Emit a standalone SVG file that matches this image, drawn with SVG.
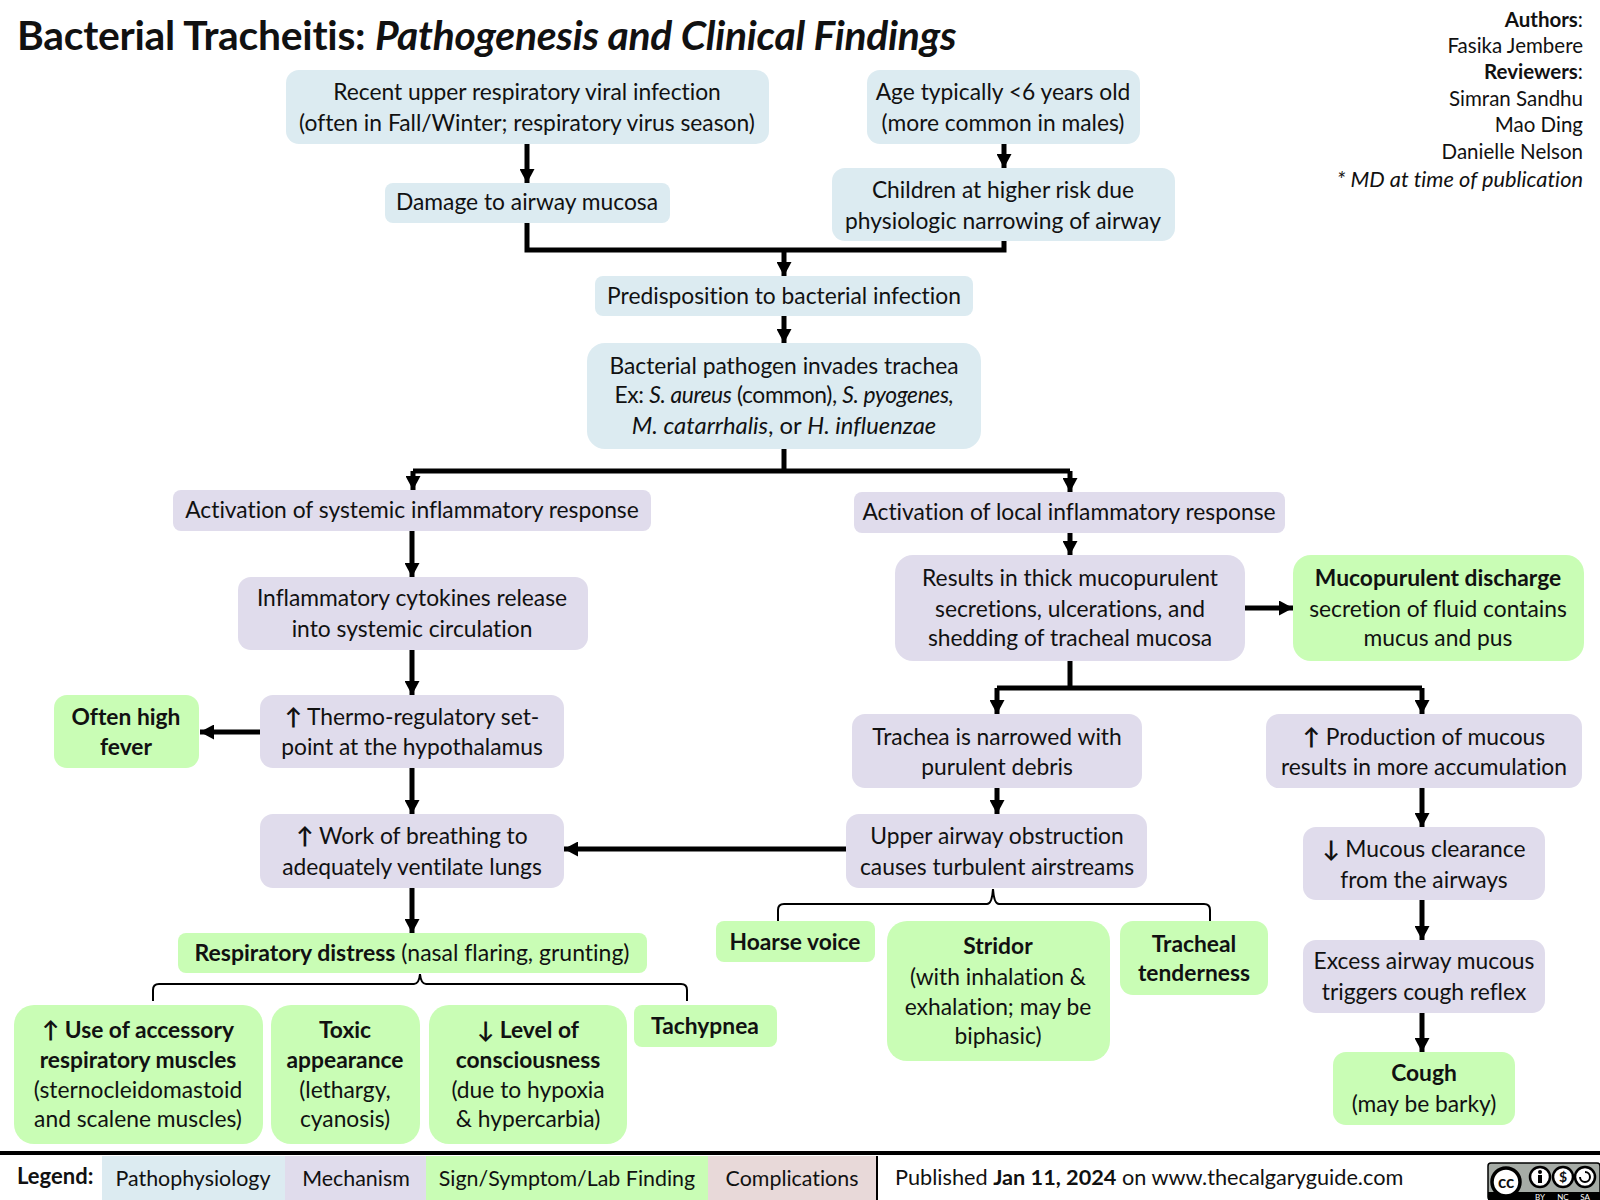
<svg xmlns="http://www.w3.org/2000/svg" width="1600" height="1200" viewBox="0 0 1600 1200">
<style>
text{font-family:"Lato","Carlito","Open Sans",sans-serif;font-size:22.8px;fill:#111;text-anchor:middle;font-variant-ligatures:none}
.b{font-weight:700}.i{font-style:italic}
.p{fill:#dcebf1}.m{fill:#e0dcec}.s{fill:#c9fdb5}.c{fill:#e8d9d9}
.r{text-anchor:end;font-size:20.5px}
.l{text-anchor:start}
.f{font-size:21.4px}
.a{fill:none;stroke:#000;stroke-width:5;marker-end:url(#ah)}
.j{fill:none;stroke:#000;stroke-width:5}
.t{fill:none;stroke:#000;stroke-width:2}
</style>
<defs><marker id="ah" markerUnits="userSpaceOnUse" markerWidth="15" markerHeight="15" refX="14" refY="7.5" orient="auto"><path d="M0,0L14,7.5L0,15z" fill="#000"/></marker></defs>
<rect width="1600" height="1200" fill="#fff"/>
<g id="title"><text class="l b" x="17" y="50" style="font-size:40.8px;letter-spacing:-.25px">Bacterial Tracheitis: <tspan class="i">Pathogenesis and Clinical Findings</tspan></text></g>
<g id="authors">
<text class="r" x="1583" y="27"><tspan class="b">Authors</tspan>:</text>
<text class="r" x="1583" y="53">Fasika Jembere</text>
<text class="r" x="1583" y="79"><tspan class="b">Reviewers</tspan>:</text>
<text class="r" x="1583" y="106">Simran Sandhu</text>
<text class="r" x="1583" y="132">Mao Ding</text>
<text class="r" x="1583" y="159">Danielle Nelson</text>
<text class="r i" x="1583" y="187" style="font-size:21.8px">* MD at time of publication</text>
</g>
<g id="connectors">
<path class="a" d="M527,144V183"/>
<path class="a" d="M1004,144V168"/>
<path class="j" d="M527,223V250H1004V241"/>
<path class="a" d="M784,250V276"/>
<path class="a" d="M784,316V343"/>
<path class="j" d="M784,449V471"/>
<path class="j" d="M413,471H1070"/>
<path class="a" d="M413,471V490"/>
<path class="a" d="M1070,471V492"/>
<path class="a" d="M1070,533V555"/>
<path class="a" d="M412,531V577"/>
<path class="a" d="M412,650V695"/>
<path class="a" d="M260,732H200"/>
<path class="a" d="M412,768V814"/>
<path class="a" d="M412,888V933"/>
<path class="a" d="M846,849H564"/>
<path class="a" d="M1245,608H1293"/>
<path class="j" d="M1070,661V688"/>
<path class="j" d="M997,688H1422"/>
<path class="a" d="M997,688V714"/>
<path class="a" d="M1422,688V714"/>
<path class="a" d="M997,788V814"/>
<path class="a" d="M1422,788V827"/>
<path class="a" d="M1422,900V940"/>
<path class="a" d="M1422,1013V1052"/>
<path class="t" d="M153,1001V990Q153,984 159,984H414Q419,984 420,974Q421,984 426,984H681Q687,984 687,990V1001"/>
<path class="t" d="M778,921V910Q778,904 784,904H987Q992,904 993,889Q994,904 999,904H1204Q1210,904 1210,910V921"/>
</g>
<g id="n1"><rect class="p" x="286" y="70" width="483" height="74" rx="13"/><text x="527" y="100">Recent upper respiratory viral infection</text><text x="527" y="131">(often in Fall/Winter; respiratory virus season)</text></g>
<g id="n2"><rect class="p" x="867" y="70" width="273" height="74" rx="13"/><text x="1003" y="100">Age typically &lt;6 years old</text><text x="1003" y="131">(more common in males)</text></g>
<g id="n3"><rect class="p" x="385" y="183" width="285" height="40" rx="8"/><text x="527" y="210">Damage to airway mucosa</text></g>
<g id="n4"><rect class="p" x="832" y="168" width="343" height="73" rx="13"/><text x="1003" y="198">Children at higher risk due</text><text x="1003" y="229">physiologic narrowing of airway</text></g>
<g id="n5"><rect class="p" x="595" y="276" width="378" height="40" rx="8"/><text x="784" y="304">Predisposition to bacterial infection</text></g>
<g id="n6"><rect class="p" x="587" y="343" width="394" height="106" rx="18"/><text x="784" y="374">Bacterial pathogen invades trachea</text><text x="784" y="403" style="letter-spacing:-.35px">Ex: <tspan class="i">S. aureus</tspan> (common), <tspan class="i">S. pyogenes,</tspan></text><text x="784" y="434" style="font-size:23.8px"><tspan class="i">M. catarrhalis</tspan>, or <tspan class="i">H. influenzae</tspan></text></g>
<g id="n7"><rect class="m" x="173" y="490" width="478" height="41" rx="8"/><text x="412" y="518">Activation of systemic inflammatory response</text></g>
<g id="n8"><rect class="m" x="854" y="492" width="431" height="41" rx="8"/><text x="1069" y="520">Activation of local inflammatory response</text></g>
<g id="n9"><rect class="m" x="238" y="577" width="350" height="73" rx="13"/><text x="412" y="606">Inflammatory cytokines release</text><text x="412" y="637">into systemic circulation</text></g>
<g id="n10"><rect class="m" x="895" y="555" width="350" height="106" rx="18"/><text x="1070" y="586">Results in thick mucopurulent</text><text x="1070" y="617">secretions, ulcerations, and</text><text x="1070" y="646">shedding of tracheal mucosa</text></g>
<g id="n11"><rect class="s" x="1293" y="555" width="291" height="106" rx="18"/><text class="b" x="1438" y="586">Mucopurulent discharge</text><text x="1438" y="617">secretion of fluid contains</text><text x="1438" y="646">mucus and pus</text></g>
<g id="n12"><rect class="s" x="54" y="695" width="145" height="73" rx="13"/><text class="b" x="126" y="725">Often high</text><text class="b" x="126" y="755">fever</text></g>
<g id="n13"><rect class="m" x="260" y="695" width="304" height="73" rx="13"/><text x="412" y="725"><tspan class="b">↑</tspan> Thermo-regulatory set-</text><text x="412" y="755">point at the hypothalamus</text></g>
<g id="n14"><rect class="m" x="852" y="714" width="290" height="74" rx="13"/><text x="997" y="745">Trachea is narrowed with</text><text x="997" y="775">purulent debris</text></g>
<g id="n15"><rect class="m" x="1266" y="714" width="316" height="74" rx="13"/><text x="1424" y="745"><tspan class="b">↑</tspan> Production of mucous</text><text x="1424" y="775">results in more accumulation</text></g>
<g id="n16"><rect class="m" x="260" y="814" width="304" height="74" rx="13"/><text x="412" y="844"><tspan class="b">↑</tspan> Work of breathing to</text><text x="412" y="875">adequately ventilate lungs</text></g>
<g id="n17"><rect class="m" x="846" y="814" width="301" height="74" rx="13"/><text x="997" y="844">Upper airway obstruction</text><text x="997" y="875">causes turbulent airstreams</text></g>
<g id="n18"><rect class="m" x="1303" y="827" width="242" height="73" rx="13"/><text x="1424" y="857"><tspan class="b">↓</tspan> Mucous clearance</text><text x="1424" y="888">from the airways</text></g>
<g id="n19"><rect class="s" x="178" y="933" width="469" height="40" rx="8"/><text x="412" y="961" style="font-size:23px"><tspan class="b">Respiratory distress</tspan> (nasal flaring, grunting)</text></g>
<g id="n20"><rect class="s" x="716" y="921" width="159" height="41" rx="8"/><text class="b" x="795" y="950">Hoarse voice</text></g>
<g id="n21"><rect class="s" x="887" y="921" width="223" height="140" rx="20"/><text class="b" x="998" y="954">Stridor</text><text x="998" y="985">(with inhalation &amp;</text><text x="998" y="1015">exhalation; may be</text><text x="998" y="1044">biphasic)</text></g>
<g id="n22"><rect class="s" x="1120" y="921" width="148" height="74" rx="13"/><text class="b" x="1194" y="952">Tracheal</text><text class="b" x="1194" y="981">tenderness</text></g>
<g id="n23"><rect class="m" x="1303" y="940" width="242" height="73" rx="13"/><text x="1424" y="969">Excess airway mucous</text><text x="1424" y="1000">triggers cough reflex</text></g>
<g id="n24"><rect class="s" x="1333" y="1052" width="182" height="73" rx="13"/><text class="b" x="1424" y="1081">Cough</text><text x="1424" y="1112">(may be barky)</text></g>
<g id="n25"><rect class="s" x="14" y="1005" width="249" height="139" rx="20"/><text class="b" x="138" y="1038"><tspan>↑</tspan> Use of accessory</text><text class="b" x="138" y="1068">respiratory muscles</text><text x="138" y="1098">(sternocleidomastoid</text><text x="138" y="1127">and scalene muscles)</text></g>
<g id="n26"><rect class="s" x="271" y="1005" width="149" height="139" rx="20"/><text class="b" x="345" y="1038">Toxic</text><text class="b" x="345" y="1068">appearance</text><text x="345" y="1098">(lethargy,</text><text x="345" y="1127">cyanosis)</text></g>
<g id="n27"><rect class="s" x="429" y="1005" width="198" height="139" rx="20"/><text class="b" x="528" y="1038"><tspan>↓</tspan> Level of</text><text class="b" x="528" y="1068">consciousness</text><text x="528" y="1098">(due to hypoxia</text><text x="528" y="1127">&amp; hypercarbia)</text></g>
<g id="n28"><rect class="s" x="634" y="1005" width="143" height="42" rx="8"/><text class="b" x="705" y="1034">Tachypnea</text></g>
<g id="footer">
<rect x="0" y="1151" width="1600" height="4" fill="#000"/>
<text class="l b" x="17" y="1184" style="font-size:22px">Legend:</text>
<rect class="p" x="102" y="1156" width="183" height="44"/><text class="f" x="193" y="1186">Pathophysiology</text>
<rect class="m" x="285" y="1156" width="141" height="44"/><text class="f" x="356" y="1186">Mechanism</text>
<rect class="s" x="426" y="1156" width="282" height="44"/><text class="f" x="567" y="1186">Sign/Symptom/Lab Finding</text>
<rect class="c" x="708" y="1156" width="168" height="44"/><text class="f" x="792" y="1186">Complications</text>
<rect x="876" y="1156" width="2" height="44" fill="#000"/>
<text class="l f" x="895" y="1185" style="font-size:21.7px">Published <tspan class="b">Jan 11, 2024</tspan> on www.thecalgaryguide.com</text>
</g>
<g id="license">
<rect x="1488" y="1163" width="112" height="37" rx="3" fill="#a6aca6" stroke="#000" stroke-width="1.5"/>
<path d="M1488,1192H1600V1200H1488z" fill="#000"/>
<circle cx="1506" cy="1182" r="14" fill="#fff" stroke="#000" stroke-width="3.5"/>
<text class="b" x="1506" y="1188" style="font-size:17px">cc</text>
<circle cx="1540" cy="1177" r="10" fill="#fff" stroke="#000" stroke-width="2.5"/>
<circle cx="1540" cy="1172" r="2" fill="#000"/><rect x="1538" y="1175" width="4" height="8" fill="#000"/>
<circle cx="1563" cy="1177" r="10" fill="#fff" stroke="#000" stroke-width="2.5"/>
<text class="b" x="1563" y="1182" style="font-size:14px">$</text>
<circle cx="1585" cy="1177" r="10" fill="#fff" stroke="#000" stroke-width="2.5"/>
<path d="M1585,1172a5,5 0 1 1 -5,5" fill="none" stroke="#000" stroke-width="2"/>
<text x="1540" y="1200" style="font-size:8px;fill:#fff">BY</text><text x="1563" y="1200" style="font-size:8px;fill:#fff">NC</text><text x="1585" y="1200" style="font-size:8px;fill:#fff">SA</text>
</g>
</svg>
